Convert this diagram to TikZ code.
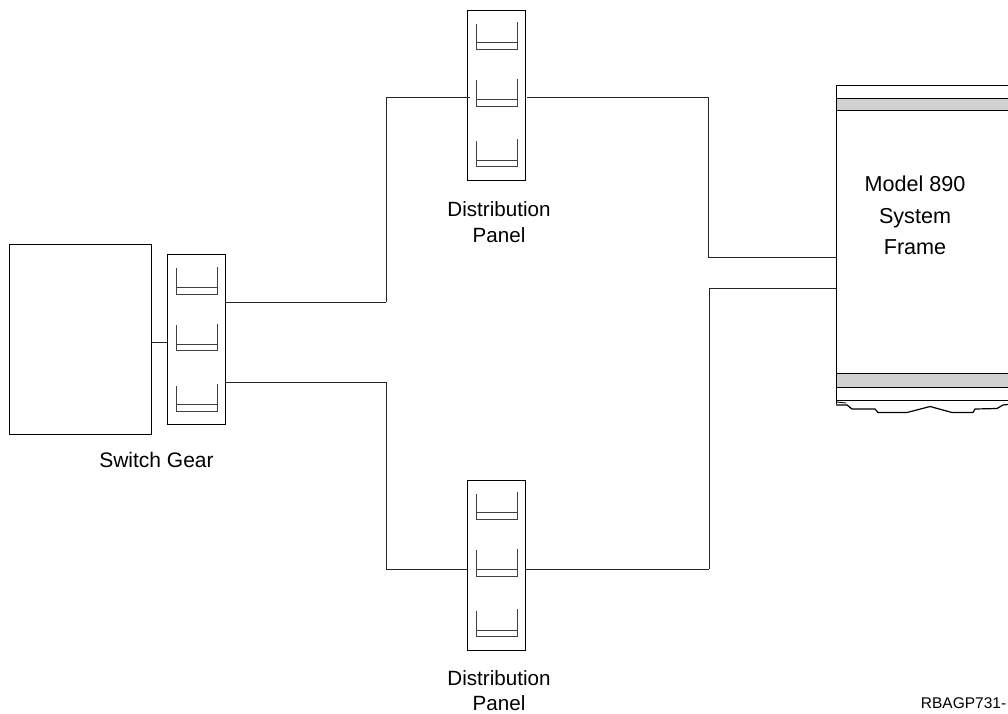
\documentclass[tikz,border=0pt]{standalone}
\usepackage{fontspec}
\setmainfont{Liberation Sans}

\begin{document}
\begin{tikzpicture}[x=1pt,y=-1pt,line width=0.9pt,
  unit/.style={draw, inner sep=0pt, minimum width=57.5pt, minimum height=170pt},
  wire/.style={black!85},
  tray/.style={black!75, line width=0.9pt},
  band/.style={draw, fill=black!18, line width=1pt},
  caption/.style={align=center, font=\fontsize{20.6}{25.5}\selectfont}]
 \useasboundingbox (0,0) rectangle (1008,713);
  \node [draw, inner sep=0pt, minimum width=142pt, minimum height=190pt] (gear) at (80,339) {};
 \begin{scope}[every node/.style={unit}]
  \node (swpanel) at (196.25,339) {};
  \node (toppanel) at (496.25,95) {};
  \node (botpanel) at (496.25,565) {};
 \end{scope}
  \node [caption, font=\fontsize{21}{26}\selectfont] (gearlabel) at (156.5,460) {Switch Gear};
  \node [caption] (toplabel) at (499,222) {Distribution\\Panel};
  \node [caption] (botlabel) at (499,690.5) {Distribution\\Panel};
  \node [align=center, font=\fontsize{21.6}{31.5}\selectfont] (framelabel) at (915,215.5) {Model 890\\System\\Frame};
  \node [font=\fontsize{15.5}{18}\selectfont, anchor=east] (partno) at (1010,703) {RBAGP731-};
 % trays
  \draw [tray] (176,268) -- (176,294) -- (217,294) -- (217,267);
  \draw [tray] (176,287) -- (217,287);
  \draw [tray] (176,325) -- (176,350.5) -- (217,350.5) -- (217,324);
  \draw [tray] (176,344) -- (217,344);
  \draw [tray] (176,386) -- (176,411) -- (217,411) -- (217,384);
  \draw [tray] (176,404) -- (217,404);
  \draw [tray] (476,24) -- (476,49) -- (517,49) -- (517,22);
  \draw [tray] (476,42.5) -- (517,42.5);
  \draw [tray] (476,80) -- (476,106) -- (517,106) -- (517,79);
  \draw [tray] (476,99) -- (517,99);
  \draw [tray] (476,141) -- (476,166) -- (517,166) -- (517,139);
  \draw [tray] (476,160) -- (517,160);
  \draw [tray] (476,494) -- (476,519) -- (517,519) -- (517,492);
  \draw [tray] (476,512.5) -- (517,512.5);
  \draw [tray] (476,550) -- (476,576) -- (517,576) -- (517,549);
  \draw [tray] (476,569) -- (517,569);
  \draw [tray] (476,611) -- (476,636) -- (517,636) -- (517,609);
  \draw [tray] (476,630) -- (517,630);
 % system frame
  \draw (836,98) -- (836,85) -- (1008,85);
  \draw (836,90) -- (836,404);
  \draw [band] (836,98.5) rectangle (1009,110.5);
  \draw [band] (836,373.5) rectangle (1009,387);
  \draw (836,400.5) -- (1008,400.5);
  \draw (837,402) -- (846,403);
  \draw [line width=1.2pt] (836,405) -- (847,405) -- (852,409) -- (875,409) -- (878,412.5) -- (907,412.5)
    -- (930,406.5) -- (952,412.5) -- (973,412.5) -- (975,409) -- (997,408.5) -- (1003,405) -- (1008,404.5);
 % junctions
  \coordinate (a1) at (386,302);
  \coordinate (a2) at (386,97);
  \coordinate (b1) at (386,382);
  \coordinate (b2) at (386,569);
  \coordinate (c1) at (708,97);
  \coordinate (c2) at (708,257);
  \coordinate (c3) at (836,257);
  \coordinate (d1) at (709,569);
  \coordinate (d2) at (709,288);
  \coordinate (d3) at (836,288);
  \coordinate (e1) at (470,97);
  \coordinate (e2) at (527,97);
  \path [wire] (gear.east |- 0,342) edge (swpanel.west |- 0,342);
  \path [wire] (swpanel.east |- a1) edge (a1);
  \path [wire] (a1) edge (a2);
  \path [wire] (a2) edge (e1);
  \path [wire] (e2) edge (c1);
  \path [wire] (c1) edge (c2);
  \path [wire] (c2) edge (c3);
  \path [wire] (swpanel.east |- b1) edge (b1);
  \path [wire] (b1) edge (b2);
  \path [wire] (b2) edge (botpanel.west |- b2);
  \path [wire] (botpanel.east |- d1) edge (d1);
  \path [wire] (d1) edge (d2);
  \path [wire] (d2) edge (d3);
 \end{tikzpicture}
\end{document}
